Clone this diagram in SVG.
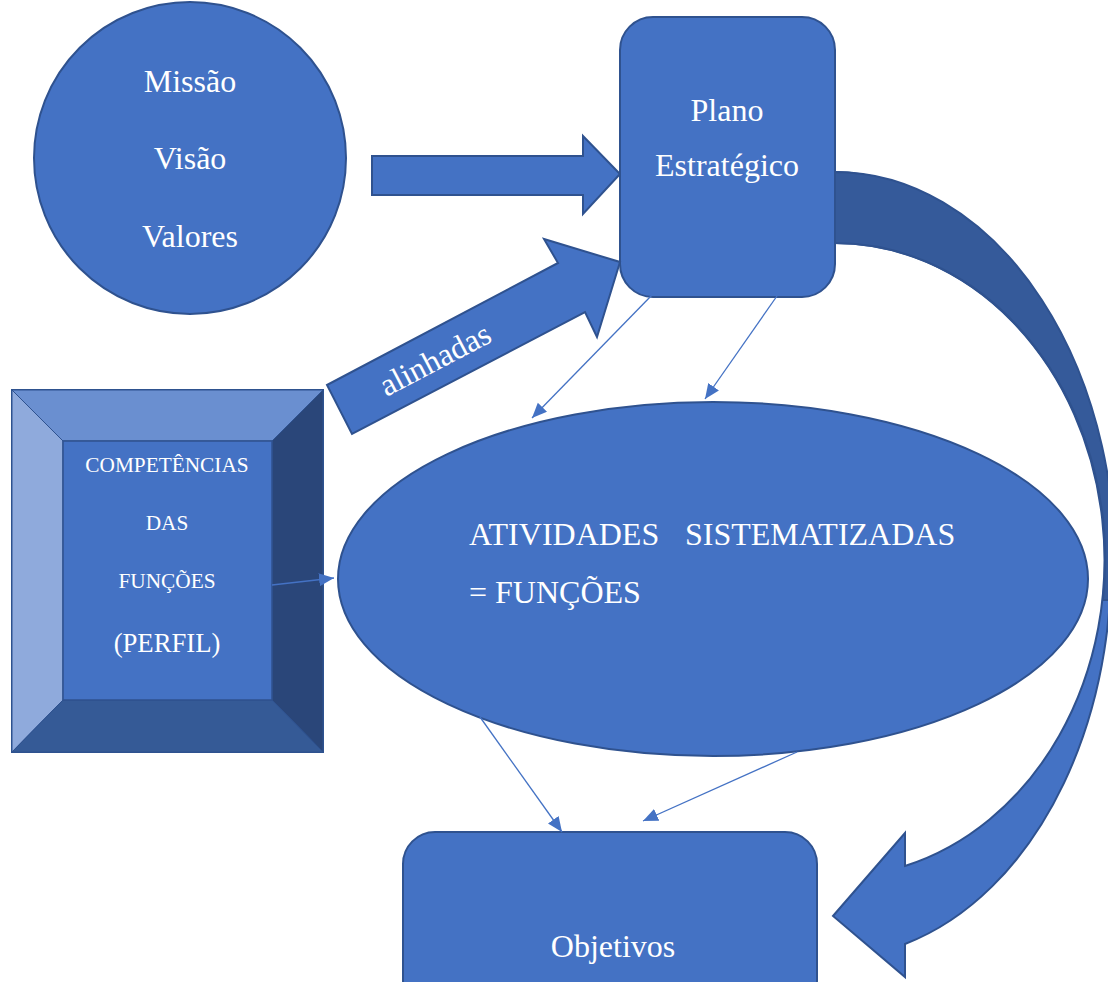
<svg xmlns="http://www.w3.org/2000/svg" width="1108" height="982" viewBox="0 0 1108 982">
<defs>
<style>
.shape{fill:#4472C4;stroke:#2F528F;stroke-width:2}
.t{font-family:"Liberation Serif","Times New Roman",serif;fill:#ffffff}
.big{font-size:32px}
.conn{stroke:#4472C4;stroke-width:1.3;fill:none;marker-end:url(#ah)}
</style>
<marker id="ah" markerUnits="userSpaceOnUse" markerWidth="16" markerHeight="14" refX="15" refY="6.5" orient="auto">
<path d="M0,0 L15,6.5 L0,13 z" fill="#4472C4"/>
</marker>
</defs>
<rect width="1108" height="982" fill="#ffffff"/>

<g id="curved-arrow">
<path class="shape" d="M835,172 A280,393 0 0 1 905,944 L905,977 L833,916 L905,833 L905,866 A270,317 0 0 0 835,243 Z"/>
<path d="M835,172 A280,393 0 0 1 1114,600 L1103,600 A270,317 0 0 0 835,243 Z" fill="#355A9A" stroke="#2F528F" stroke-width="2"/>
</g>

<g id="missao">
<circle class="shape" cx="190" cy="158" r="156"/>
<text class="t big" x="190" y="92" text-anchor="middle">Missão</text>
<text class="t big" x="190" y="169" text-anchor="middle">Visão</text>
<text class="t big" x="190" y="247" text-anchor="middle">Valores</text>
</g>

<g id="arrow-right">
<polygon class="shape" points="372,156 583,156 583,136 620,174 583,214 583,195 372,195"/>
</g>

<g id="plano">
<rect class="shape" x="620" y="17" width="215" height="280" rx="33" ry="33"/>
<text class="t big" x="727" y="121" text-anchor="middle">Plano</text>
<text class="t big" x="727" y="176" text-anchor="middle">Estratégico</text>
</g>

<g id="alinhadas">
<polygon class="shape" points="327,385 558,263 544,239 620,262 597,337 585,312 352,434"/>
<text class="t big" x="440" y="369" text-anchor="middle" transform="rotate(-27.7 440 369)">alinhadas</text>
</g>

<g id="competencias">
<rect x="12" y="390" width="311" height="362" fill="#4472C4" stroke="#2F528F" stroke-width="2"/>
<polygon points="12,390 323,390 272,441 63,441" fill="#6A8FD0" stroke="#2F528F" stroke-width="1"/>
<polygon points="12,390 63,441 63,700 12,752" fill="#8FAADC" stroke="#2F528F" stroke-width="1"/>
<polygon points="323,390 323,752 272,700 272,441" fill="#2A4679" stroke="#2F528F" stroke-width="1"/>
<polygon points="12,752 63,700 272,700 323,752" fill="#355A96" stroke="#2F528F" stroke-width="1"/>
<rect x="63" y="441" width="209" height="259" fill="#4472C4" stroke="#2F528F" stroke-width="1.5"/>
<text class="t" font-size="21.3" x="167" y="472" text-anchor="middle">COMPETÊNCIAS</text>
<text class="t" font-size="21.3" x="167" y="530" text-anchor="middle">DAS</text>
<text class="t" font-size="21.3" x="167" y="588" text-anchor="middle">FUNÇÕES</text>
<text class="t" font-size="26.7" x="167" y="652" text-anchor="middle">(PERFIL)</text>
</g>

<g id="atividades">
<ellipse class="shape" cx="713" cy="579" rx="375" ry="177"/>
<text class="t big" y="545"><tspan x="469">ATIVIDADES</tspan><tspan x="685">SISTEMATIZADAS</tspan></text>
<text class="t big" x="469" y="603">= FUNÇÕES</text>
</g>

<g id="objetivos">
<rect class="shape" x="403" y="832" width="414" height="180" rx="32" ry="32"/>
<text class="t big" x="613" y="957" text-anchor="middle">Objetivos</text>
</g>

<g id="connectors">
<line class="conn" x1="652" y1="295" x2="532" y2="418"/>
<line class="conn" x1="777" y1="296" x2="705" y2="399"/>
<line class="conn" x1="272" y1="585" x2="334" y2="578"/>
<line class="conn" x1="480" y1="717" x2="562" y2="832"/>
<line class="conn" x1="797" y1="752" x2="643" y2="821"/>
</g>
</svg>
